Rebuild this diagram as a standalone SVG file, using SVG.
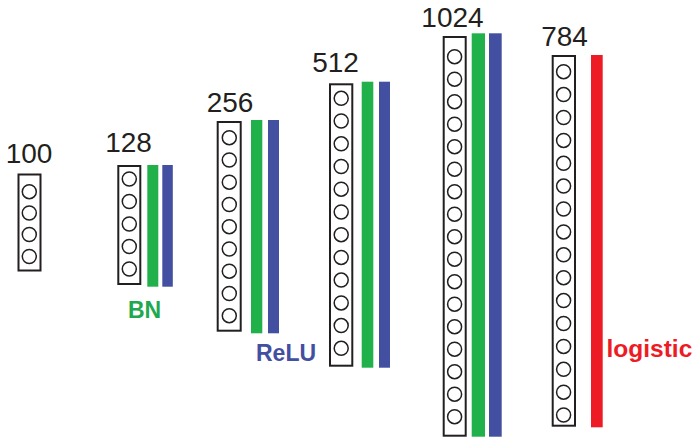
<svg xmlns="http://www.w3.org/2000/svg" width="695" height="439" viewBox="0 0 695 439">
<style>
.box{fill:#fff;stroke:#231f20;stroke-width:2}
.n{fill:#fff;stroke:#231f20;stroke-width:1.5}
.num{font-family:"Liberation Sans",Arial,sans-serif;font-size:28px;fill:#231f20;text-anchor:middle}
.lab{font-family:"Liberation Sans",Arial,sans-serif;font-weight:bold}
.g{fill:#21b14b}.b{fill:#434fa0}.r{fill:#ed1c24}
</style>
<rect width="695" height="439" fill="#fff"/>
<g id="layer100">
<text class="num" x="29" y="163">100</text>
<rect class="box" x="18.5" y="174.5" width="22" height="96"/>
<circle class="n" cx="29.3" cy="191.7" r="7"/><circle class="n" cx="29.3" cy="213" r="7"/><circle class="n" cx="29.3" cy="234.5" r="7"/><circle class="n" cx="29.3" cy="256.5" r="7"/>
</g>
<g id="layer128">
<text class="num" x="128.5" y="151.7">128</text>
<rect class="box" x="118.3" y="166" width="22" height="118"/>
<circle class="n" cx="129.3" cy="179" r="7"/><circle class="n" cx="129.3" cy="201.5" r="7"/><circle class="n" cx="129.3" cy="224" r="7"/><circle class="n" cx="129.3" cy="246.5" r="7"/><circle class="n" cx="129.3" cy="269" r="7"/>
<rect class="g" x="147.3" y="165" width="11" height="121.7"/>
<rect class="b" x="162.3" y="165" width="10.5" height="121.7"/>
</g>
<g id="layer256">
<text class="num" x="230" y="111.7">256</text>
<rect class="box" x="217.7" y="122" width="23" height="208.7"/>
<circle class="n" cx="229.3" cy="137.7" r="7"/><circle class="n" cx="229.3" cy="160" r="7"/><circle class="n" cx="229.3" cy="182.2" r="7"/><circle class="n" cx="229.3" cy="204.5" r="7"/><circle class="n" cx="229.3" cy="226.7" r="7"/><circle class="n" cx="229.3" cy="249" r="7"/><circle class="n" cx="229.3" cy="271.2" r="7"/><circle class="n" cx="229.3" cy="293.5" r="7"/><circle class="n" cx="229.3" cy="315.7" r="7"/>
<rect class="g" x="251" y="120" width="11.3" height="213.3"/>
<rect class="b" x="268" y="120" width="11" height="213.3"/>
</g>
<g id="layer512">
<text class="num" x="335.5" y="71.7">512</text>
<rect class="box" x="330" y="84.3" width="22.3" height="281.4"/>
<circle class="n" cx="341.2" cy="98.3" r="7"/><circle class="n" cx="341.2" cy="121" r="7"/><circle class="n" cx="341.2" cy="143.8" r="7"/><circle class="n" cx="341.2" cy="166.5" r="7"/><circle class="n" cx="341.2" cy="189.2" r="7"/><circle class="n" cx="341.2" cy="212" r="7"/><circle class="n" cx="341.2" cy="234.7" r="7"/><circle class="n" cx="341.2" cy="257.4" r="7"/><circle class="n" cx="341.2" cy="280.1" r="7"/><circle class="n" cx="341.2" cy="302.9" r="7"/><circle class="n" cx="341.2" cy="325.6" r="7"/><circle class="n" cx="341.2" cy="348.3" r="7"/>
<rect class="g" x="361.7" y="81.7" width="11.6" height="286"/>
<rect class="b" x="379" y="81.7" width="11" height="286"/>
</g>
<g id="layer1024">
<text class="num" x="452.5" y="26.7">1024</text>
<rect class="box" x="443.7" y="37" width="22" height="398.7"/>
<circle class="n" cx="454.6" cy="56.7" r="7"/><circle class="n" cx="454.6" cy="79.2" r="7"/><circle class="n" cx="454.6" cy="101.7" r="7"/><circle class="n" cx="454.6" cy="124.2" r="7"/><circle class="n" cx="454.6" cy="146.7" r="7"/><circle class="n" cx="454.6" cy="169.2" r="7"/><circle class="n" cx="454.6" cy="191.7" r="7"/><circle class="n" cx="454.6" cy="214.2" r="7"/><circle class="n" cx="454.6" cy="236.7" r="7"/><circle class="n" cx="454.6" cy="259.2" r="7"/><circle class="n" cx="454.6" cy="281.7" r="7"/><circle class="n" cx="454.6" cy="304.2" r="7"/><circle class="n" cx="454.6" cy="326.7" r="7"/><circle class="n" cx="454.6" cy="349.2" r="7"/><circle class="n" cx="454.6" cy="371.7" r="7"/><circle class="n" cx="454.6" cy="394.2" r="7"/><circle class="n" cx="454.6" cy="416.7" r="7"/>
<rect class="g" x="471.7" y="33.3" width="13.3" height="403.4"/>
<rect class="b" x="489" y="33.3" width="12.7" height="403.4"/>
</g>
<g id="layer784">
<text class="num" x="564.5" y="46">784</text>
<rect class="box" x="552.7" y="56" width="22.3" height="369.7"/>
<circle class="n" cx="563.6" cy="71.7" r="7"/><circle class="n" cx="563.6" cy="94.6" r="7"/><circle class="n" cx="563.6" cy="117.5" r="7"/><circle class="n" cx="563.6" cy="140.4" r="7"/><circle class="n" cx="563.6" cy="163.3" r="7"/><circle class="n" cx="563.6" cy="186.1" r="7"/><circle class="n" cx="563.6" cy="209" r="7"/><circle class="n" cx="563.6" cy="231.9" r="7"/><circle class="n" cx="563.6" cy="254.8" r="7"/><circle class="n" cx="563.6" cy="277.7" r="7"/><circle class="n" cx="563.6" cy="300.6" r="7"/><circle class="n" cx="563.6" cy="323.5" r="7"/><circle class="n" cx="563.6" cy="346.4" r="7"/><circle class="n" cx="563.6" cy="369.3" r="7"/><circle class="n" cx="563.6" cy="392.2" r="7"/><circle class="n" cx="563.6" cy="415" r="7"/>
<rect class="r" x="591" y="55" width="11.7" height="372.3"/>
</g>
<g id="labels">
<text class="lab" x="144.5" y="318" font-size="23" fill="#1fa84d" text-anchor="middle">BN</text>
<text class="lab" x="256" y="360.5" font-size="23" fill="#434fa0">ReLU</text>
<text class="lab" x="606.5" y="357" font-size="24.5" fill="#ed1c24">logistic</text>
</g>
<g id="connectors"/>
</svg>
